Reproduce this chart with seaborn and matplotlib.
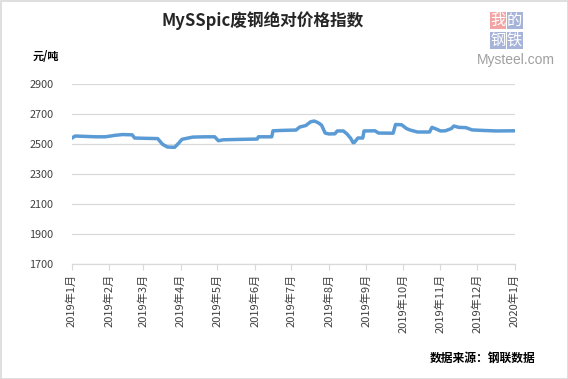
import matplotlib
matplotlib.use("Agg")
import matplotlib.pyplot as plt
from matplotlib.patches import Rectangle
import pandas as pd
import seaborn as sns

# ---- data ----
dates = ["2019-01-01", "2019-01-04", "2019-01-11", "2019-01-21", "2019-01-29",
         "2019-02-06", "2019-02-12", "2019-02-20", "2019-02-22", "2019-03-02",
         "2019-03-13", "2019-03-17", "2019-03-21", "2019-03-27", "2019-03-30",
         "2019-04-02", "2019-04-06", "2019-04-11", "2019-04-21", "2019-04-29",
         "2019-05-02", "2019-05-06", "2019-05-21", "2019-06-03", "2019-06-04",
         "2019-06-15", "2019-06-16", "2019-06-25", "2019-07-05", "2019-07-08",
         "2019-07-13", "2019-07-17", "2019-07-20", "2019-07-23", "2019-07-26",
         "2019-07-29", "2019-08-01", "2019-08-06", "2019-08-08", "2019-08-13",
         "2019-08-16", "2019-08-19", "2019-08-21", "2019-08-22", "2019-08-25",
         "2019-08-29", "2019-08-30", "2019-09-08", "2019-09-11", "2019-09-23",
         "2019-09-25", "2019-09-30", "2019-10-04", "2019-10-07", "2019-10-13",
         "2019-10-23", "2019-10-25", "2019-10-29", "2019-11-01", "2019-11-05",
         "2019-11-10", "2019-11-12", "2019-11-16", "2019-11-22", "2019-11-27",
         "2019-12-07", "2019-12-17", "2020-01-01"]
values = [2540, 2555, 2553, 2550, 2550,
          2560, 2565, 2563, 2542, 2540,
          2538, 2500, 2482, 2480, 2505,
          2533, 2540, 2548, 2550, 2550,
          2524, 2530, 2533, 2535, 2550,
          2550, 2590, 2593, 2595, 2615,
          2625, 2650, 2655, 2645, 2628,
          2575, 2569, 2570, 2589, 2589,
          2569, 2540, 2511, 2512, 2542,
          2542, 2589, 2590, 2575, 2574,
          2632, 2630, 2605, 2595, 2582,
          2582, 2613, 2600, 2589, 2590,
          2605, 2622, 2613, 2611, 2596,
          2592, 2589, 2590]
tick_dates = ["2019-01-01", "2019-02-01", "2019-03-01", "2019-04-01", "2019-05-01",
              "2019-06-01", "2019-07-01", "2019-08-01", "2019-09-01", "2019-10-01",
              "2019-11-01", "2019-12-01", "2020-01-01"]
tick_labels = ["2019年1月", "2019年2月", "2019年3月", "2019年4月", "2019年5月",
               "2019年6月", "2019年7月", "2019年8月", "2019年9月", "2019年10月",
               "2019年11月", "2019年12月", "2020年1月"]
y_ticks = [1700, 1900, 2100, 2300, 2500, 2700, 2900]

title = "MySSpic废钢绝对价格指数"
unit = "元/吨"
source = "数据来源：钢联数据"

# ---- style ----
sns.set_theme(style="white")
plt.rcParams["font.family"] = ["Noto Sans CJK SC", "DejaVu Sans"]

df = pd.DataFrame({"date": pd.to_datetime(dates), "value": values})

fig = plt.figure(figsize=(5.68, 3.79), dpi=100)
ax = fig.add_axes([71.5 / 568, 1 - 264.3 / 379, 443 / 568, 180 / 379])

sns.lineplot(data=df, x="date", y="value", ax=ax, color="#5B9BD5",
             linewidth=2.5, legend=False)

ax.set_ylim(1700, 2900)
ax.set_xlim(pd.Timestamp("2019-01-01"), pd.Timestamp("2020-01-01"))
ax.set_yticks(y_ticks)
ax.set_yticklabels([str(v) for v in y_ticks])
ax.set_xticks(pd.to_datetime(tick_dates))
ax.set_xticklabels(tick_labels, rotation=90)
ax.set_xlabel("")
ax.set_ylabel("")

ax.grid(axis="y", color="#D9D9D9", linewidth=0.9)
ax.grid(axis="x", visible=False)
ax.set_axisbelow(True)
for s in ["left", "right", "top"]:
    ax.spines[s].set_visible(False)
ax.spines["bottom"].set_color("#D9D9D9")
ax.spines["bottom"].set_linewidth(0.9)
ax.tick_params(axis="x", which="major", bottom=True, length=4, width=0.8,
               color="#D9D9D9", labelsize=8, labelcolor="#404040", pad=3)
ax.tick_params(axis="y", left=False, labelsize=7.8, labelcolor="#404040", pad=7)

# ---- texts ----
fig.text(263 / 568, 1 - 21 / 379, title, ha="center", va="center",
         fontsize=12, fontweight="bold", color="#262626")
fig.text(33 / 568, 1 - 57 / 379, unit, ha="left", va="center",
         fontsize=8, fontweight="bold", color="black")
fig.text(536 / 568, 1 - 358 / 379, source, ha="right", va="center",
         fontsize=8.5, fontweight="bold", color="black")

# ---- logo ----
boxes = [("我", 490, 11.5, "#F2A3A3"), ("的", 506.5, 11.5, "#A7B4DA"),
         ("钢", 490, 32, "#A7B4DA"), ("铁", 506.5, 32, "#A7B4DA")]
for ch, bx, by, col in boxes:
    fig.patches.append(Rectangle((bx / 568, 1 - (by + 17) / 379), 16 / 568, 17 / 379,
                                 transform=fig.transFigure, facecolor=col,
                                 edgecolor="none", zorder=1))
    fig.text((bx + 8) / 568, 1 - (by + 8.5) / 379, ch, ha="center", va="center",
             fontsize=11, color="white", zorder=2)
fig.text(516 / 568, 1 - 60 / 379, "Mysteel.com", ha="center", va="center",
         fontsize=10, color="#A0A0A0", family=["Liberation Sans", "DejaVu Sans"],
         zorder=3)

# ---- frame ----
fig.patches.append(Rectangle((0.5 / 568, 0.5 / 379), 567 / 568, 378 / 379,
                             transform=fig.transFigure, facecolor="none",
                             edgecolor="#D9D9D9", linewidth=1.2, zorder=5))

fig.savefig("out.png", dpi=100)
